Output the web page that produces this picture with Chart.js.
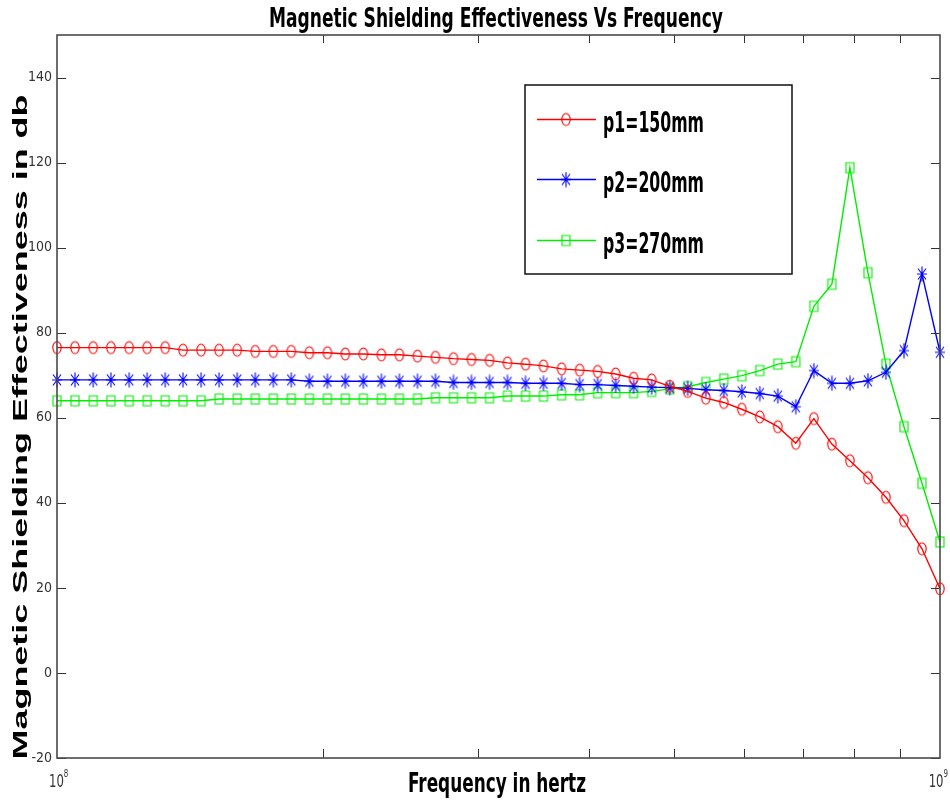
<!DOCTYPE html>
<html>
<head>
<meta charset="utf-8">
<script src="https://cdn.jsdelivr.net/npm/chart.js@4/dist/chart.umd.min.js"></script>
<style>
html,body{margin:0;padding:0;background:#ffffff;}
#wrap{width:950px;height:803px;}
</style>
</head>
<body>
<div id="wrap"><canvas id="c" width="950" height="803"></canvas></div>
<script>
// ---------- data ----------
const chartTitle = 'Magnetic Shielding Effectiveness Vs Frequency';
const xAxisTitle = 'Frequency in hertz';
const yAxisTitle = 'Magnetic Shielding Effectiveness in db';
const seriesNames = ['p1=150mm', 'p2=200mm', 'p3=270mm'];

// frequencies in MHz (50 log-spaced samples between 10^8 and 10^9 Hz)
const freqMHz = [100, 104.8, 109.9, 115.1, 120.7, 126.5, 132.6, 138.9, 145.6, 152.6,
  160.0, 167.7, 175.8, 184.2, 193.1, 202.4, 212.1, 222.3, 233.0, 244.2,
  256.0, 268.3, 281.2, 294.7, 308.9, 323.7, 339.3, 355.6, 372.8, 390.7,
  409.5, 429.2, 449.8, 471.5, 494.2, 517.9, 542.9, 569.0, 596.4, 625.0,
  655.1, 686.6, 719.7, 754.3, 790.6, 828.6, 868.5, 910.3, 954.1, 1000];

const p1 = [76.5, 76.5, 76.5, 76.5, 76.5, 76.5, 76.5, 75.9, 75.9, 75.9,
  75.9, 75.6, 75.6, 75.6, 75.3, 75.3, 75.0, 75.0, 74.8, 74.8,
  74.5, 74.2, 73.9, 73.7, 73.5, 72.9, 72.6, 72.2, 71.5, 71.2,
  70.9, 70.3, 69.3, 68.9, 67.4, 66.2, 64.6, 63.6, 62.0, 60.2,
  57.9, 54.0, 59.8, 53.8, 49.9, 45.9, 41.3, 35.8, 29.2, 19.8];

const p2 = [68.9, 68.9, 68.9, 68.9, 68.9, 68.9, 68.9, 68.9, 68.9, 68.9,
  68.9, 68.9, 68.9, 68.9, 68.6, 68.6, 68.6, 68.6, 68.6, 68.6,
  68.6, 68.6, 68.3, 68.3, 68.3, 68.3, 68.1, 68.1, 68.1, 67.8,
  67.8, 67.6, 67.4, 67.2, 67.1, 66.9, 66.6, 66.4, 66.1, 65.7,
  65.1, 62.6, 71.1, 68.1, 68.1, 68.7, 70.7, 75.8, 93.8, 75.4];

const p3 = [64.0, 64.0, 64.0, 64.0, 64.0, 64.0, 64.0, 64.0, 64.0, 64.4,
  64.4, 64.4, 64.4, 64.4, 64.4, 64.4, 64.4, 64.4, 64.4, 64.4,
  64.4, 64.7, 64.7, 64.7, 64.7, 65.1, 65.1, 65.1, 65.4, 65.4,
  65.9, 65.9, 65.9, 66.2, 66.8, 67.3, 68.3, 69.1, 69.9, 71.1,
  72.6, 73.2, 86.2, 91.4, 118.8, 94.1, 72.6, 57.9, 44.6, 30.8];

const yMin = -20, yMax = 150, yStep = 20, yLastTick = 140;
const xMin = 1e8, xMax = 1e9;
const xMinorTicks = [2e8, 3e8, 4e8, 5e8, 6e8, 7e8, 8e8, 9e8];
const xMajorTicks = [1e8, 1e9];
const xTickBase = ['10', '10'];
const xTickExp = ['8', '9'];

// ---------- styling helpers ----------
const NARROW = "'Liberation Sans Narrow', 'Arial Narrow', 'DejaVu Sans Condensed', sans-serif";
const WIDE = "'Liberation Sans', Arial, 'DejaVu Sans', sans-serif";

function makeMarker(kind, color) {
  const c = document.createElement('canvas');
  c.width = 14; c.height = 16;
  const g = c.getContext('2d');
  g.strokeStyle = color;
  g.lineWidth = 1.1;
  g.beginPath();
  if (kind === 'circle') {
    g.ellipse(7, 8, 4.2, 6.0, 0, 0, Math.PI * 2);
  } else if (kind === 'square') {
    g.rect(3, 3, 8, 10);
  } else {
    g.moveTo(7, 0.5); g.lineTo(7, 15.5);
    g.moveTo(2, 8); g.lineTo(12, 8);
    g.moveTo(3, 2.5); g.lineTo(11, 13.5);
    g.moveTo(11, 2.5); g.lineTo(3, 13.5);
  }
  g.stroke();
  return c;
}

const colors = ['#ff0000', '#0000ff', '#00ee00'];
const markers = [makeMarker('circle', colors[0]), makeMarker('star', colors[1]), makeMarker('square', colors[2])];
const seriesValues = [p1, p2, p3];

const datasets = seriesValues.map((vals, i) => ({
  label: seriesNames[i],
  data: freqMHz.map((f, k) => ({ x: f * 1e6, y: vals[k] })),
  borderColor: colors[i],
  backgroundColor: colors[i],
  borderWidth: 1.4,
  pointStyle: markers[i],
  pointRadius: 6,
  pointHoverRadius: 6,
  tension: 0,
  fill: false,
  clip: false
}));

// draw text stretched/compressed horizontally to a target width
function fitText(ctx, text, font, targetW, x, y, align, sy) {
  ctx.font = font;
  const w = ctx.measureText(text).width;
  const sx = targetW / w;
  ctx.save();
  ctx.translate(x, y);
  ctx.scale(sx, sy || 1);
  ctx.textAlign = align;
  ctx.fillText(text, 0, 0);
  ctx.restore();
}

const decoPlugin = {
  id: 'deco',
  afterDraw(chart) {
    const ctx = chart.ctx;
    const a = chart.chartArea;
    const xs = chart.scales.x, ys = chart.scales.y;
    ctx.save();

    // tick marks pointing inward on all four sides
    ctx.strokeStyle = '#333333';
    ctx.lineWidth = 1;
    ctx.beginPath();
    ys.ticks.forEach(t => {
      const py = Math.round(ys.getPixelForValue(t.value)) + 0.5;
      ctx.moveTo(a.left, py); ctx.lineTo(a.left + 9, py);
      ctx.moveTo(a.right, py); ctx.lineTo(a.right - 9, py);
    });
    xMinorTicks.forEach(v => {
      const px = Math.round(xs.getPixelForValue(v)) + 0.5;
      ctx.moveTo(px, a.bottom); ctx.lineTo(px, a.bottom - 9);
      ctx.moveTo(px, a.top); ctx.lineTo(px, a.top + 8);
    });
    ctx.stroke();

    // axes box
    ctx.strokeStyle = '#4a4a4a';
    ctx.lineWidth = 1.6;
    ctx.strokeRect(a.left, a.top, a.right - a.left, a.bottom - a.top);

    // x tick labels 10^8, 10^9 (base + superscript exponent)
    ctx.fillStyle = '#333333';
    ctx.textBaseline = 'alphabetic';
    const sx = 0.72;
    xMajorTicks.forEach((v, i) => {
      const px = xs.getPixelForValue(v);
      ctx.font = '18px ' + NARROW;
      const bw = ctx.measureText(xTickBase[i]).width;
      ctx.font = '11px ' + NARROW;
      const ew = ctx.measureText(xTickExp[i]).width;
      const total = (bw + ew) * sx;
      const startX = Math.min(px - 8, chart.width - 2 - total);
      ctx.save();
      ctx.translate(startX, a.bottom + 29);
      ctx.scale(sx, 1);
      ctx.textAlign = 'left';
      ctx.font = '18px ' + NARROW;
      ctx.fillText(xTickBase[i], 0, 0);
      ctx.font = '11px ' + NARROW;
      ctx.fillText(xTickExp[i], bw, -10);
      ctx.restore();
    });

    // titles
    ctx.fillStyle = '#000000';
    fitText(ctx, chartTitle, 'bold 26px ' + NARROW, 454, 496, 27, 'center');
    fitText(ctx, xAxisTitle, 'bold 27px ' + NARROW, 178, 497, 792, 'center');

    // y axis title (rotated)
    ctx.save();
    ctx.font = 'bold 29px ' + WIDE;
    const yw = ctx.measureText(yAxisTitle).width;
    ctx.translate(27, 427);
    ctx.rotate(-Math.PI / 2);
    ctx.scale(665 / yw, 0.7);
    ctx.textAlign = 'center';
    ctx.fillText(yAxisTitle, 0, 0);
    ctx.restore();

    // legend box
    const lx = 525, ly = 85, lw = 267, lh = 189;
    ctx.fillStyle = '#ffffff';
    ctx.fillRect(lx, ly, lw, lh);
    ctx.strokeStyle = '#111111';
    ctx.lineWidth = 1.5;
    ctx.strokeRect(lx, ly, lw, lh);
    const rows = [119.5, 179.5, 240.5];
    chart.data.datasets.forEach((ds, i) => {
      const ry = rows[i];
      ctx.strokeStyle = ds.borderColor;
      ctx.lineWidth = 1.4;
      ctx.beginPath();
      ctx.moveTo(537, ry); ctx.lineTo(596, ry);
      ctx.stroke();
      const m = ds.pointStyle;
      ctx.drawImage(m, 566 - m.width / 2, ry - m.height / 2);
      ctx.fillStyle = '#000000';
      fitText(ctx, ds.label, 'bold 28px ' + NARROW, 101, 603, ry + 12, 'left');
    });
    ctx.restore();
  }
};

new Chart(document.getElementById('c'), {
  type: 'line',
  data: { datasets },
  plugins: [decoPlugin],
  options: {
    responsive: false,
    animation: false,
    devicePixelRatio: 1,
    layout: { autoPadding: false, padding: { top: 35, right: 10, left: 0, bottom: 0 } },
    plugins: {
      legend: { display: false },
      title: { display: false },
      tooltip: { enabled: false }
    },
    scales: {
      x: {
        type: 'logarithmic',
        min: xMin,
        max: xMax,
        grid: { display: false, drawTicks: false },
        border: { display: false },
        ticks: { display: false },
        afterFit: (s) => { s.height = 45; s.paddingLeft = 0; s.paddingRight = 0; }
      },
      y: {
        type: 'linear',
        min: yMin,
        max: yMax,
        grid: { display: false, drawTicks: false },
        border: { display: false },
        ticks: {
          stepSize: yStep,
          padding: 5,
          color: '#333333',
          font: { family: NARROW, size: 14 }
        },
        afterBuildTicks: (s) => { s.ticks = s.ticks.filter(t => t.value <= yLastTick); },
        afterFit: (s) => { s.width = 57; s.paddingTop = 0; s.paddingBottom = 0; }
      }
    }
  }
});
</script>
</body>
</html>
